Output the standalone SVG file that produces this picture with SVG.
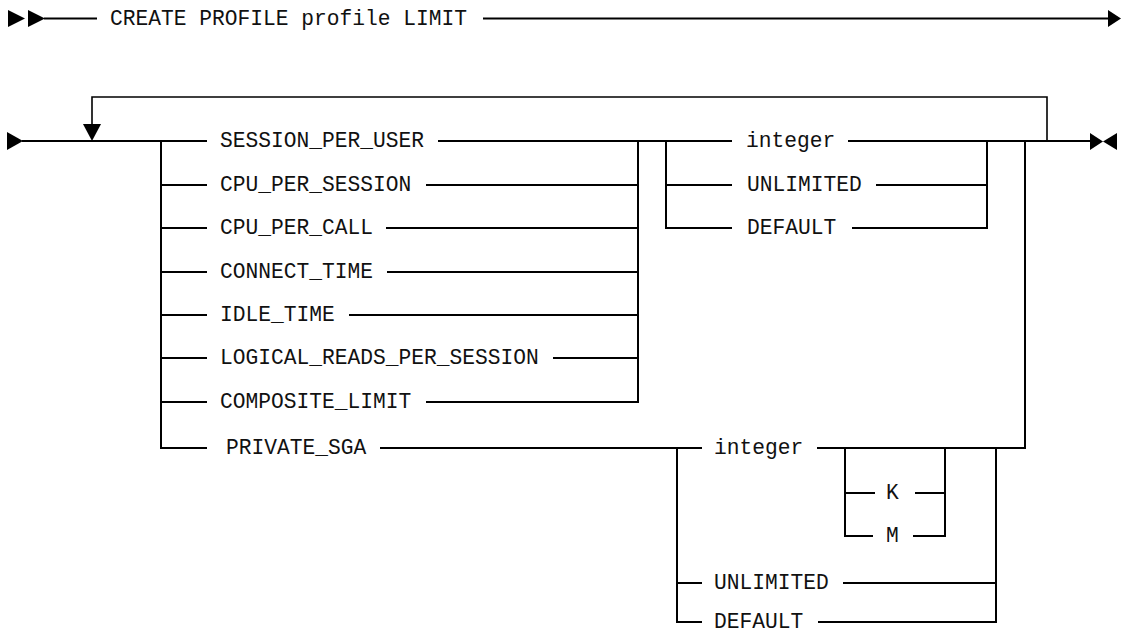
<svg xmlns="http://www.w3.org/2000/svg" width="1122" height="632" viewBox="0 0 1122 632">
<style>
.bg{fill:#ffffff}
.ln{fill:none;stroke:#000;stroke-width:2;stroke-linecap:butt;stroke-linejoin:miter}
.lp{fill:none;stroke:#000;stroke-width:1.6}
.ar{fill:#000;stroke:none}
.t{font-family:"Liberation Mono","Courier New",monospace;font-size:21.25px;fill:#111}
</style>
<rect class="bg" x="0" y="0" width="1122" height="632"/>
<g id="connectors">
  <!-- row 1 -->
  <polygon class="ar" points="8,10 8,27 25,18.5"/>
  <polygon class="ar" points="28,10 28,27 45,18.5"/>
  <path class="ln" d="M44 18.5H97M483 18.5H1109"/>
  <polygon class="ar" points="1108,10 1108,27 1121,18.5"/>
  <!-- row 2 start -->
  <polygon class="ar" points="7,132 7,150 23,141"/>
  <path class="ln" d="M22 141H207"/>
  <!-- loop back -->
  <path class="lp" d="M1047 141V97H92V126"/>
  <polygon class="ar" points="83,124 101,124 92,141"/>
  <!-- first choice -->
  <path class="ln" d="M161 141V448H207"/>
  <path class="ln" d="M161 185H207M161 228H207M161 272H207M161 315H207M161 358H207M161 402H207"/>
  <path class="ln" d="M438 141H732"/>
  <path class="ln" d="M426 185H638M386 228H638M387 272H638M349 315H638M553 358H638M426 402H638V141"/>
  <!-- second choice -->
  <path class="ln" d="M666 141V228H732M666 185H732"/>
  <path class="ln" d="M848 141H1090M876 185H987M852 228H987V141"/>
  <path class="ln" d="M1025 141V448H996"/>
  <!-- private sga -->
  <path class="ln" d="M380 448H702M677 448V622H702M677 583H702"/>
  <path class="ln" d="M817 448H996V622H818M843 583H996"/>
  <path class="ln" d="M845 448V536H873M845 493H875M913 536H945V448M915 493H945"/>
  <!-- end -->
  <polygon class="ar" points="1090,133 1090,150 1103,141.5"/>
  <polygon class="ar" points="1117,133 1117,150 1103,141.5"/>
</g>
<g id="node-create"><text class="t" x="110" y="24.5">CREATE PROFILE profile LIMIT</text></g>
<g id="node-session-per-user"><text class="t" x="220" y="147">SESSION_PER_USER</text></g>
<g id="node-cpu-per-session"><text class="t" x="220" y="191">CPU_PER_SESSION</text></g>
<g id="node-cpu-per-call"><text class="t" x="220" y="234">CPU_PER_CALL</text></g>
<g id="node-connect-time"><text class="t" x="220" y="278">CONNECT_TIME</text></g>
<g id="node-idle-time"><text class="t" x="220" y="321">IDLE_TIME</text></g>
<g id="node-logical-reads"><text class="t" x="220" y="364">LOGICAL_READS_PER_SESSION</text></g>
<g id="node-composite-limit"><text class="t" x="220" y="408">COMPOSITE_LIMIT</text></g>
<g id="node-private-sga"><text class="t" x="226" y="454">PRIVATE_SGA</text></g>
<g id="node-integer-1"><text class="t" x="746" y="147">integer</text></g>
<g id="node-unlimited-1"><text class="t" x="747" y="191">UNLIMITED</text></g>
<g id="node-default-1"><text class="t" x="747" y="234">DEFAULT</text></g>
<g id="node-integer-2"><text class="t" x="714" y="454">integer</text></g>
<g id="node-k"><text class="t" x="886" y="499">K</text></g>
<g id="node-m"><text class="t" x="886" y="542">M</text></g>
<g id="node-unlimited-2"><text class="t" x="714" y="589">UNLIMITED</text></g>
<g id="node-default-2"><text class="t" x="714" y="628">DEFAULT</text></g>
</svg>
